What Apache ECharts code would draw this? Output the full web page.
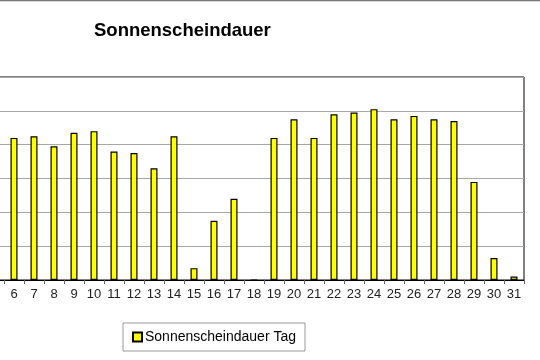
<!DOCTYPE html>
<html><head><meta charset="utf-8">
<script src="https://cdn.jsdelivr.net/npm/echarts@6/dist/echarts.min.js"></script>
<style>html,body{margin:0;padding:0;background:#fff;overflow:hidden;width:540px;height:360px;position:relative}#c{position:absolute;left:-96px;top:0;width:636px;height:360px}</style>
</head><body><div id="c"></div>
<script>
var days = ['1','2','3','4','5','6','7','8','9','10','11','12','13','14','15','16','17','18','19','20','21','22','23','24','25','26','27','28','29','30','31'];
// Sunshine hours; days 1-5 lie outside the visible crop
var sunshine = [null,null,null,null,null,8.4,8.5,7.9,8.7,8.8,7.6,7.5,6.6,8.5,0.7,3.5,4.8,0,8.4,9.5,8.4,9.8,9.9,10.1,9.5,9.7,9.5,9.4,5.8,1.3,0.2];
var seriesName = 'Sonnenscheindauer Tag';
var titleText = 'Sonnenscheindauer';
var off = 96; // hidden part of the chart on the left

var chart = echarts.init(document.getElementById('c'), null, {renderer:'canvas'});
chart.setOption({
  animation:false,
  backgroundColor:'#fff',
  title:{text:titleText,left:89+off,top:16,textStyle:{fontFamily:'Liberation Sans, Arial',fontSize:18.5,fontWeight:'bold',color:'#000'}},
  graphic:[{type:'line',shape:{x1:0,y1:0.5,x2:636,y2:0.5},style:{stroke:'#777',lineWidth:1.5}}],
  legend:{data:[seriesName],left:123+off,top:323,padding:[7,9,7,9],borderColor:'#999',borderWidth:1,itemWidth:9,itemHeight:9,itemGap:5,
    icon:'rect',textStyle:{fontFamily:'Liberation Sans, Arial',fontSize:14,color:'#000',padding:[0,0,0,-2]}},
  grid:{left:0,right:16,top:77,bottom:80,show:true,borderColor:'#000',borderWidth:1,containLabel:false},
  xAxis:{type:'category',data:days,boundaryGap:true,
    axisLine:{lineStyle:{color:'#000',width:1}},
    axisTick:{show:true,length:4,lineStyle:{color:'#666'}},
    axisLabel:{fontFamily:'Liberation Sans, Arial',fontSize:13,color:'#222',margin:8,interval:0}},
  yAxis:{type:'value',min:0,max:12,interval:2,axisLabel:{show:false},axisLine:{show:false},axisTick:{show:false},
    splitLine:{lineStyle:{color:'#a8a8a8',width:1}}},
  series:[{name:seriesName,type:'bar',data:sunshine,barWidth:7,
    itemStyle:{color:'#ffff00',borderColor:'#000',borderWidth:1.2}}]
});
</script></body></html>
